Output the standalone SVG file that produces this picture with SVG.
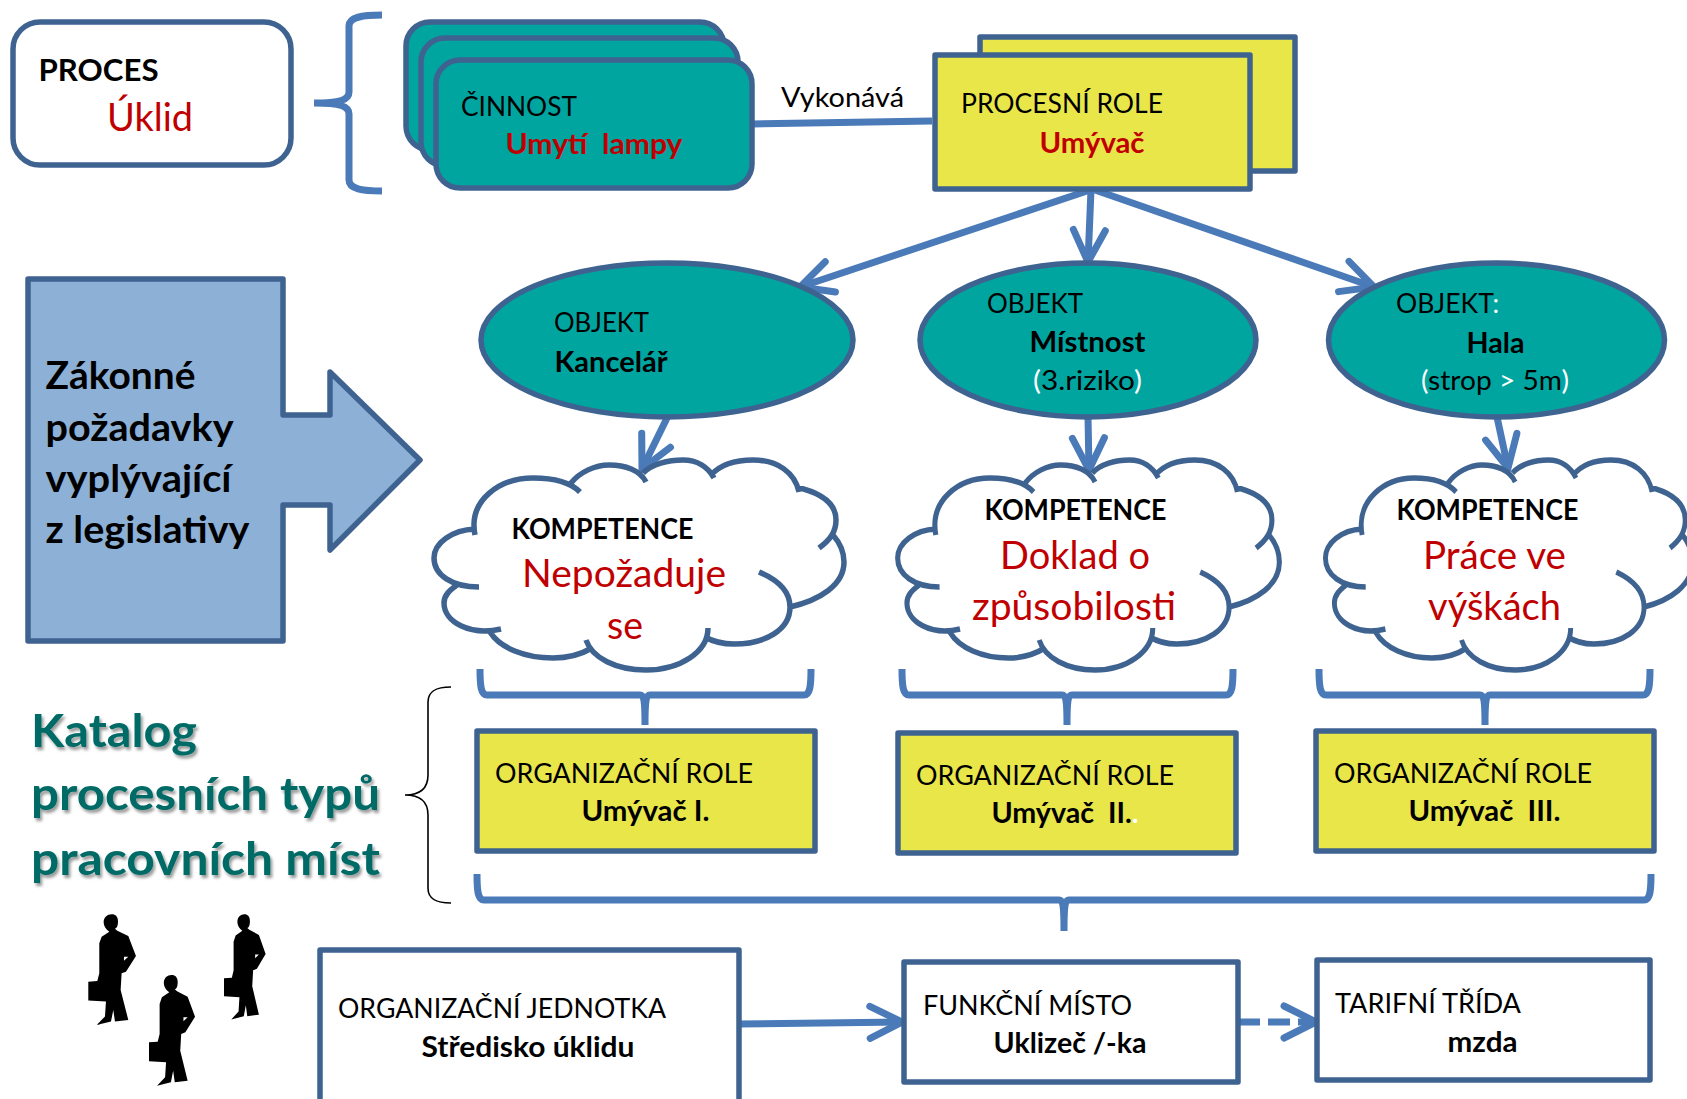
<svg xmlns="http://www.w3.org/2000/svg" width="1687" height="1099" viewBox="0 0 1687 1099">
<style>
text{font-family:Lato,"Liberation Sans","Noto Sans",sans-serif;font-size:27px;fill:#000;white-space:pre;transform:translate(-1px,0)}
.b{font-weight:700;font-size:28px;transform:translate(-.5px,1px)}
.r{fill:#c00000}
.big{font-size:39px;transform:translate(-1px,1px)}
.w{fill:#fff}
.law{font-size:38px;font-weight:700;transform:translate(-.5px,1px)}
.cat{font-size:46px;font-weight:700;fill:#006b66;filter:url(#sh);transform:translate(-2px,0)}
.box{stroke:#3f6390;stroke-width:5.500;stroke-linejoin:round}
.teal{fill:#00a5a0}
.yel{fill:#e9e64a}
.wht{fill:#fff}
.cloud{fill:none;stroke:#3f6390;stroke-width:5.500;vector-effect:non-scaling-stroke}
.conn{fill:none;stroke:#4a7ab8;stroke-width:7}
.brace{fill:none;stroke:#4a7ab8;stroke-width:7}
</style>
<defs>
<filter id="sh" x="-5%" y="-10%" width="110%" height="130%"><feDropShadow dx="2" dy="3" stdDeviation="1.6" flood-color="#000" flood-opacity=".4"/></filter>
<marker id="v" markerUnits="userSpaceOnUse" markerWidth="50" markerHeight="50" refX="41" refY="25" orient="auto" overflow="visible"><path d="M9 9L41 25L9 41" fill="none" stroke="#4a7ab8" stroke-width="7" stroke-linecap="round" stroke-linejoin="miter"/></marker>
<path id="cloudp" d="M75 95C68 60 100 38 133 38C152 38 170 42 180 52M171 43C180 32 195 25 209 25C225 25 240 30 246 42M243 33C252 24 268 20 283 20C297 20 308 27 314 38M311 35C320 25 335 20 353 20C378 20 395 33 399 52M396 47C418 52 436 62 436 80C436 92 430 100 419 108M433 95C440 103 444 112 444 122C444 145 420 160 390 167M359 132C378 140 390 152 390 167C390 190 365 204 334 204C322 204 312 201 305 197M308 188C308 212 280 230 246 230C216 230 192 218 186 200M192 208C180 215 167 218 153 218C125 218 100 208 90 192M101 189C70 196 44 182 44 163C44 155 50 150 57 145M79 147C52 147 34 135 34 118C34 103 52 90 75 89"/>
<path id="man" d="M311 727C311 712 322 703 335 703C348 703 355 712 354 727C354 738 350 745 345 746L352 752L385 768L408 828L378 875L365 880L362 930L385 1020L345 1025L340 990L333 1025L290 1035L315 1010L318 965L265 962L265 905L292 903L298 880L298 790L305 770L328 755C318 748 311 738 311 727ZM372 830L372 842L385 830Z" fill-rule="evenodd"/>
</defs>

<g id="connectors">
<path class="conn" d="M752 124L932 121"/>
<path class="conn" d="M1090 190L800 287" marker-end="url(#v)"/>
<path class="conn" d="M1091 190L1088 262" marker-end="url(#v)"/>
<path class="conn" d="M1095 190L1374 287" marker-end="url(#v)"/>
<path class="conn" d="M667 418L642 469" marker-end="url(#v)"/>
<path class="conn" d="M1088 417L1089 470" marker-end="url(#v)"/>
<path class="conn" d="M1497 417L1508 468" marker-end="url(#v)"/>
<path class="conn" d="M739 1024L902 1022" marker-end="url(#v)"/>
<path class="conn" d="M1238 1022L1316 1022" stroke-dasharray="22 8" marker-end="url(#v)"/>
<path class="brace" d="M382 15C362 15 349 17 349 26V92C349 100 340 103 314 103C340 103 349 106 349 114V180C349 189 362 191 382 191"/>
<path class="brace" d="M480 669C480 686 481 695 487 695H640C644 695 645 700 645 725C645 700 646 695 650 695H804C810 695 811 686 811 669"/>
<path class="brace" d="M902 669C902 686 903 695 909 695H1062C1066 695 1067 700 1067 725C1067 700 1068 695 1072 695H1226C1232 695 1233 686 1233 669"/>
<path class="brace" d="M1319 669C1319 686 1320 695 1326 695H1480C1484 695 1485 700 1485 725C1485 700 1486 695 1490 695H1643C1649 695 1650 686 1650 669"/>
<path class="brace" d="M477 874C477 892 478 900 484 900H1059C1063 900 1064 905 1064 931C1064 905 1065 900 1069 900H1644C1650 900 1651 892 1651 874"/>
<path d="M451 687C436 687 428 691 428 702V775C428 788 420 795 405 795C420 795 428 802 428 815V888C428 899 436 903 451 903" fill="none" stroke="#000" stroke-width="1.600"/>
</g>

<g id="proces"><rect class="box wht" x="13" y="22" width="278" height="143" rx="27"/>
<text x="39" y="80" class="b" style="font-size:31px" textLength="120" lengthAdjust="spacingAndGlyphs">PROCES</text>
<text x="108" y="130" class="r big" textLength="86" lengthAdjust="spacingAndGlyphs">Úklid</text></g>

<g id="cinnost">
<rect class="box teal" x="406" y="22" width="318" height="128" rx="24"/>
<rect class="box teal" x="421" y="38" width="317" height="128" rx="24"/>
<rect class="box teal" x="436" y="60" width="316" height="128" rx="24"/>
<text x="462" y="116" textLength="116" lengthAdjust="spacingAndGlyphs">ČINNOST</text>
<text x="506" y="153" class="b r" textLength="177" lengthAdjust="spacingAndGlyphs">Umytí  lampy</text></g>

<text id="vykonava" x="782" y="107" textLength="123" lengthAdjust="spacingAndGlyphs">Vykonává</text>

<g id="procesni-role">
<rect class="box yel" x="980" y="37" width="315" height="134"/>
<rect class="box yel" x="935" y="55" width="315" height="134"/>
<text x="962" y="113" textLength="202" lengthAdjust="spacingAndGlyphs">PROCESNÍ ROLE</text>
<text x="1040" y="152" class="b r" textLength="105" lengthAdjust="spacingAndGlyphs">Umývač</text></g>

<g id="zakon">
<path d="M28 279H283V415H330V372L420 460L330 550V505H283V641H28Z" fill="#8db0d6" stroke="#3f6390" stroke-width="5.500" stroke-linejoin="round"/>
<text x="46" y="388" class="law" textLength="150" lengthAdjust="spacingAndGlyphs">Zákonné</text>
<text x="46" y="440" class="law" textLength="188" lengthAdjust="spacingAndGlyphs">požadavky</text>
<text x="46" y="491" class="law" textLength="186" lengthAdjust="spacingAndGlyphs">vyplývající</text>
<text x="46" y="542" class="law" textLength="204" lengthAdjust="spacingAndGlyphs">z legislativy</text></g>

<g id="objekt1"><ellipse class="box teal" cx="667" cy="340" rx="186" ry="77"/>
<text x="555" y="332" textLength="95" lengthAdjust="spacingAndGlyphs">OBJEKT</text>
<text x="555" y="371" class="b" textLength="113" lengthAdjust="spacingAndGlyphs">Kancelář</text></g>
<g id="objekt2"><ellipse class="box teal" cx="1088" cy="340" rx="168" ry="77"/>
<text x="988" y="313" textLength="96" lengthAdjust="spacingAndGlyphs">OBJEKT</text>
<text x="1030" y="351" class="b" textLength="116" lengthAdjust="spacingAndGlyphs">Místnost</text>
<text x="1034" y="390" textLength="109" lengthAdjust="spacingAndGlyphs"><tspan class="w">(</tspan>3.riziko<tspan class="w">)</tspan></text></g>
<g id="objekt3"><ellipse class="box teal" cx="1496.500" cy="340" rx="168" ry="77"/>
<text x="1397" y="313" textLength="103" lengthAdjust="spacingAndGlyphs">OBJEKT<tspan class="w">:</tspan></text>
<text x="1467" y="352" class="b" textLength="58" lengthAdjust="spacingAndGlyphs">Hala</text>
<text x="1422" y="390" textLength="148" lengthAdjust="spacingAndGlyphs"><tspan class="w">(</tspan>strop <tspan class="w">&gt;</tspan> 5m<tspan class="w">)</tspan></text></g>

<g id="kompetence1"><use href="#cloudp" class="cloud" transform="translate(400 440)"/>
<text x="512" y="538" class="b" textLength="182" lengthAdjust="spacingAndGlyphs">KOMPETENCE</text>
<text x="523" y="586" class="r big" textLength="204" lengthAdjust="spacingAndGlyphs">Nepožaduje</text>
<text x="608" y="638" class="r big" textLength="36" lengthAdjust="spacingAndGlyphs">se</text></g>
<g id="kompetence2"><use href="#cloudp" class="cloud" transform="translate(866 440) scale(.931 1)"/>
<text x="985" y="519" class="b" textLength="182" lengthAdjust="spacingAndGlyphs">KOMPETENCE</text>
<text x="1001" y="568" class="r big" textLength="150" lengthAdjust="spacingAndGlyphs">Doklad o</text>
<text x="973" y="619" class="r big" textLength="204" lengthAdjust="spacingAndGlyphs">způsobilosti</text></g>
<g id="kompetence3"><use href="#cloudp" class="cloud" transform="translate(1295 440) scale(.895 1)"/>
<text x="1397" y="519" class="b" textLength="182" lengthAdjust="spacingAndGlyphs">KOMPETENCE</text>
<text x="1424" y="568" class="r big" textLength="143" lengthAdjust="spacingAndGlyphs">Práce ve</text>
<text x="1429" y="619" class="r big" textLength="133" lengthAdjust="spacingAndGlyphs">výškách</text></g>

<g id="orgrole1"><rect class="box yel" x="477" y="731" width="338" height="120"/>
<text x="496" y="783" textLength="258" lengthAdjust="spacingAndGlyphs">ORGANIZAČNÍ ROLE</text>
<text x="582" y="820" class="b" textLength="128" lengthAdjust="spacingAndGlyphs">Umývač I.</text></g>
<g id="orgrole2"><rect class="box yel" x="898" y="733" width="338" height="120"/>
<text x="917" y="785" textLength="258" lengthAdjust="spacingAndGlyphs">ORGANIZAČNÍ ROLE</text>
<text x="992" y="822" class="b" textLength="147" lengthAdjust="spacingAndGlyphs">Umývač  II.<tspan class="w">.</tspan></text></g>
<g id="orgrole3"><rect class="box yel" x="1316" y="731" width="338" height="120"/>
<text x="1335" y="783" textLength="258" lengthAdjust="spacingAndGlyphs">ORGANIZAČNÍ ROLE</text>
<text x="1409" y="820" class="b" textLength="152" lengthAdjust="spacingAndGlyphs">Umývač  III.</text></g>

<g id="katalog">
<text x="33" y="747" class="cat" textLength="166" lengthAdjust="spacingAndGlyphs">Katalog</text>
<text x="33" y="810" class="cat" textLength="349" lengthAdjust="spacingAndGlyphs">procesních typů</text>
<text x="33" y="875" class="cat" textLength="349" lengthAdjust="spacingAndGlyphs">pracovních míst</text></g>

<g id="lide" fill="#000">
<use href="#man" transform="translate(88.300 914.300) scale(.3333) translate(-265 -703)"/>
<use href="#man" transform="translate(224 914.300) scale(.291 .3167) translate(-265 -703)"/>
<use href="#man" transform="translate(149 975) scale(.322 .3333) translate(-265 -703)"/>
</g>

<g id="jednotka"><rect class="box wht" x="320" y="950" width="419" height="170"/>
<text x="339" y="1018" textLength="328" lengthAdjust="spacingAndGlyphs">ORGANIZAČNÍ JEDNOTKA</text>
<text x="422" y="1056" class="b" textLength="213" lengthAdjust="spacingAndGlyphs">Středisko úklidu</text></g>
<g id="misto"><rect class="box wht" x="904" y="962" width="334" height="120"/>
<text x="924" y="1015" textLength="209" lengthAdjust="spacingAndGlyphs">FUNKČNÍ MÍSTO</text>
<text x="994" y="1052" class="b" textLength="153" lengthAdjust="spacingAndGlyphs">Uklizeč /-ka</text></g>
<g id="tarif"><rect class="box wht" x="1317" y="960" width="333" height="120"/>
<text x="1336" y="1013" textLength="186" lengthAdjust="spacingAndGlyphs">TARIFNÍ TŘÍDA</text>
<text x="1448" y="1051" class="b" textLength="70" lengthAdjust="spacingAndGlyphs">mzda</text></g>
</svg>
